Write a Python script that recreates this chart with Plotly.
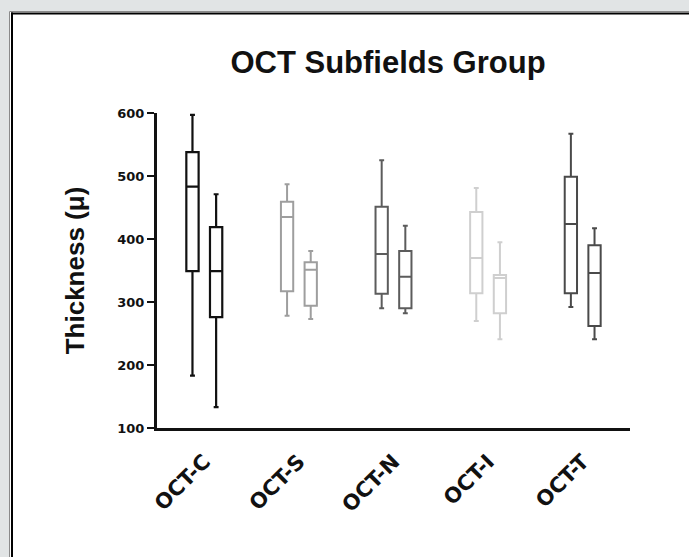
import plotly.graph_objects as go

categories = ["OCT-C", "OCT-S", "OCT-N", "OCT-I", "OCT-T"]
colors = ["#111111", "#9e9e9e", "#5c5c5c", "#cfcfcf", "#4a4a4a"]

# first box of each pair
a_low = [183, 278, 290, 270, 292]
a_q1 = [349, 317, 313, 314, 314]
a_med = [483, 435, 376, 370, 424]
a_q3 = [538, 459, 451, 443, 499]
a_high = [597, 487, 525, 481, 567]

# second box of each pair
b_low = [133, 273, 282, 241, 241]
b_q1 = [276, 294, 290, 282, 262]
b_med = [349, 351, 340, 338, 346]
b_q3 = [419, 363, 381, 343, 390]
b_high = [471, 381, 421, 395, 417]

y_ticks = [100, 200, 300, 400, 500, 600]

# plot area in pixels
L, R, T, B = 157, 630, 113, 428
W, H = 689, 557


def px(x):
    return (x - L) / (R - L)


def py(y):
    return (B - y) / (B - T)


fig = go.Figure()
off = 0.125
for i, cat in enumerate(categories):
    for sign, lo, q1, md, q3, hi in [
        (-1, a_low, a_q1, a_med, a_q3, a_high),
        (1, b_low, b_q1, b_med, b_q3, b_high),
    ]:
        fig.add_trace(go.Box(
            x=[i + sign * off],
            q1=[q1[i]], median=[md[i]], q3=[q3[i]],
            lowerfence=[lo[i]], upperfence=[hi[i]],
            width=0.13,
            whiskerwidth=0.4,
            line=dict(color=colors[i], width=2.2 if i == 0 else 2),
            fillcolor="rgba(255,255,255,0)",
            boxpoints=False,
            showlegend=False,
            hoverinfo="skip",
        ))

grey = "#e1e4e5"
shapes = [
    # grey outer bands (top and left)
    dict(type="rect", xref="paper", yref="paper", x0=px(-5), x1=px(700),
         y0=py(-5), y1=py(11), line=dict(width=0), fillcolor=grey, layer="below"),
    dict(type="rect", xref="paper", yref="paper", x0=px(-5), x1=px(9),
         y0=py(-5), y1=py(600), line=dict(width=0), fillcolor=grey, layer="below"),
    # thin grey edge lines
    dict(type="line", xref="paper", yref="paper", x0=px(9.5), x1=px(700),
         y0=py(11.5), y1=py(11.5), line=dict(color="#8a8a8a", width=1), layer="below"),
    dict(type="line", xref="paper", yref="paper", x0=px(9.5), x1=px(9.5),
         y0=py(11.5), y1=py(600), line=dict(color="#8a8a8a", width=1), layer="below"),
    # black frame lines
    dict(type="line", xref="paper", yref="paper", x0=px(11), x1=px(700),
         y0=py(13.5), y1=py(13.5), line=dict(color="#000000", width=2), layer="below"),
    dict(type="line", xref="paper", yref="paper", x0=px(12), x1=px(12),
         y0=py(12.5), y1=py(600), line=dict(color="#000000", width=2), layer="below"),
]

fig.update_layout(
    width=W, height=H,
    margin=dict(l=L, r=W - R, t=T, b=H - B, pad=0),
    paper_bgcolor="#ffffff",
    plot_bgcolor="rgba(0,0,0,0)",
    shapes=shapes,
    font=dict(family="Liberation Sans, Arial, sans-serif", color="#111111"),
    title=dict(text="<b>OCT Subfields Group</b>", x=px(388), xref="paper",
               xanchor="center", y=1 - 62 / H, yanchor="middle",
               font=dict(size=31, color="#111111")),
    xaxis=dict(
        range=[-0.5, 4.5],
        tickmode="array", tickvals=list(range(len(categories))),
        ticktext=["<b>%s</b>" % c for c in categories],
        tickangle=-45,
        tickfont=dict(size=21, color="#111111", family="DejaVu Sans"),
        showline=True, linecolor="#111111", linewidth=3,
        ticks="outside", ticklen=10, tickcolor="rgba(0,0,0,0)",
        showgrid=False, zeroline=False,
    ),
    yaxis=dict(
        range=[100, 600],
        tickmode="array", tickvals=y_ticks,
        ticktext=["<b>%d</b>" % v for v in y_ticks],
        tickfont=dict(size=13, color="#111111", family="DejaVu Sans"),
        ticks="outside", ticklen=7, tickwidth=2, tickcolor="#111111",
        showline=True, linecolor="#111111", linewidth=3,
        showgrid=False, zeroline=False,
        title=dict(text="<b>Thickness (μ)</b>", font=dict(size=26, color="#111111"),
                   standoff=26),
    ),
)

fig.write_html("out.html")
